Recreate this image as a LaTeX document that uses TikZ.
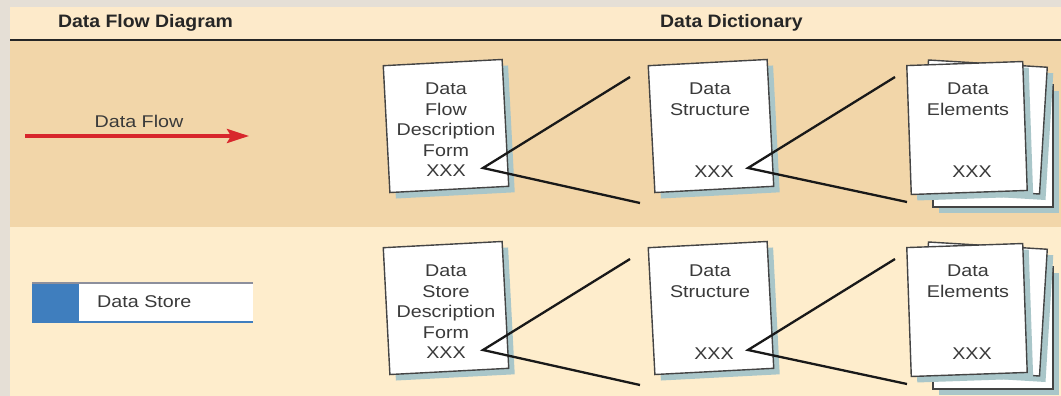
\documentclass[tikz,border=0pt]{standalone}
\usepackage{fontspec}
\setmainfont[FakeStretch=1.16]{Liberation Sans}
\newfontfamily\hdrfont[FakeStretch=1.08]{Liberation Sans}
\usetikzlibrary{shadows,arrows.meta}
\definecolor{outerc}{HTML}{E5DFD6}
\definecolor{headc}{HTML}{FDEACA}
\definecolor{topc}{HTML}{F2D6A9}
\definecolor{lowc}{HTML}{FEEDCC}
\definecolor{shadowc}{HTML}{A9C6C9}
\definecolor{textc}{HTML}{3A3A3A}
\definecolor{pagec}{HTML}{444444}
\definecolor{bluec}{HTML}{3F7EBE}
\definecolor{redc}{HTML}{D8262C}
\definecolor{dsgrey}{HTML}{8C8F9C}
\begin{document}
\begin{tikzpicture}[x=1pt,y=-1pt,
  page/.style={draw=pagec, line width=1.4pt, fill=white, inner sep=0pt,
    minimum width=119pt, minimum height=127pt,
    drop shadow={shadow xshift=6pt, shadow yshift=-6pt, fill=shadowc, opacity=1}},
  txt/.style={font=\fontsize{17}{20.5}\selectfont, text=textc, inner sep=0pt, align=center},
  hdr/.style={font=\hdrfont\bfseries\fontsize{18}{20}\selectfont, text=black!85, inner sep=0pt},
  zoomline/.style={line width=2.3pt, black!90},
]
\useasboundingbox (0,0) rectangle (1061,396);
\fill[outerc] (0,0) rectangle (1061,396);
\fill[headc] (10,7) rectangle (1061,40);
\fill[topc] (10,40) rectangle (1061,227);
\fill[lowc] (10,227) rectangle (1061,396);
\draw[line width=2.5pt, black!85] (10,40) -- (1061,40);

\node[hdr, anchor=base] (h1) at (145.5,28) {Data Flow Diagram};
\node[hdr, anchor=base] (h2) at (731.5,28) {Data Dictionary};

% data flow symbol
\node[txt, anchor=base] (dfl) at (139,127) {Data Flow};
\coordinate (dfs) at (25,136);
\coordinate (dfe) at (249,136);
\draw[line width=3.5pt, redc, -{Stealth[length=22pt,width=14pt,inset=4pt]}] (dfs) -- (dfe);

% data store symbol
\node[fill=white, minimum width=221pt, minimum height=39pt, inner sep=0pt, anchor=north west] (ds) at (32,283) {};
\node[fill=bluec, minimum width=47pt, minimum height=39pt, inner sep=0pt, anchor=north west] (dsb) at (32,283) {};
\draw[dsgrey, line width=1.2pt] (ds.north west) -- (ds.north east);
\draw[bluec, line width=2pt] (ds.south west) -- (ds.south east);
\node[txt, anchor=base west] (dst) at (97,307) {Data Store};

\foreach \r/\oy/\w in {a/0/Flow, b/182/Store} {
  % description form
  \node[page, rotate=3] (p1\r) at (446,126+\oy) {};
  \node[txt, anchor=north] (t1\r) at (446,83+\oy) {Data\\\w\\Description\\Form\\XXX};
  \coordinate (v1\r) at (483,168+\oy);
  \coordinate (u1\r) at (630,77+\oy);
  \coordinate (d1\r) at (640,203+\oy);
  \draw[zoomline] (u1\r) -- (v1\r) -- (d1\r);
  % data structure
  \node[page, rotate=3] (p2\r) at (711,126+\oy) {};
  \node[txt, anchor=north] (t2\r) at (710,83+\oy) {Data\\Structure};
  \node[txt, anchor=base] (x2\r) at (714,177+\oy) {XXX};
  \coordinate (v2\r) at (748,168+\oy);
  \coordinate (u2\r) at (895,77+\oy);
  \coordinate (d2\r) at (907,202+\oy);
  \draw[zoomline] (u2\r) -- (v2\r) -- (d2\r);
  % data elements stack
  \node[page, minimum width=120pt, minimum height=122pt] (p5\r) at (993,146+\oy) {};
  \node[page, rotate=-3.5] (p4\r) at (984,127+\oy) {};
  \node[page, rotate=2, minimum width=116pt, minimum height=129pt] (p3\r) at (967,128+\oy) {};
  \node[txt, anchor=north] (t3\r) at (968,83+\oy) {Data\\Elements};
  \node[txt, anchor=base] (x3\r) at (972,177+\oy) {XXX};
}
\end{tikzpicture}
\end{document}
